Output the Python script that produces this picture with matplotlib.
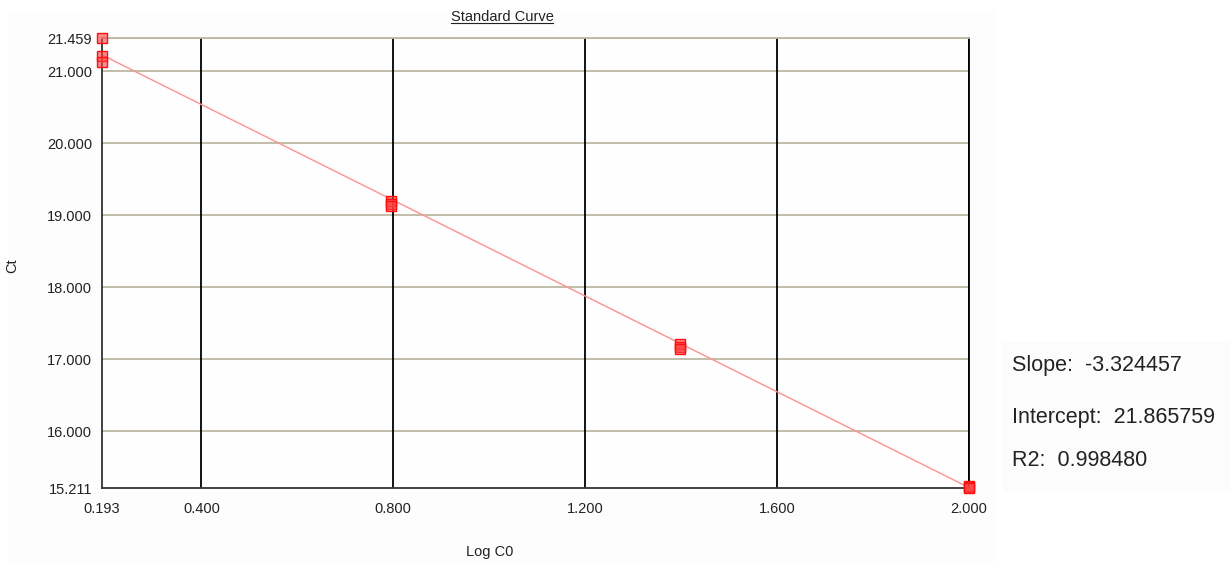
import matplotlib.pyplot as plt
from matplotlib.lines import Line2D
from matplotlib.patches import Rectangle

plt.rcParams['font.family'] = ['Liberation Sans', 'DejaVu Sans']

# standard curve replicates
log_c0 = [0.193, 0.193, 0.193,
          0.796, 0.796, 0.796,
          1.398, 1.398, 1.398,
          2.000, 2.000, 2.000]
ct = [21.459, 21.21, 21.13,
      19.19, 19.15, 19.12,
      17.21, 17.17, 17.14,
      15.245, 15.23, 15.211]

slope = -3.324457
intercept = 21.865759
r2 = 0.998480

x_ticks = [0.193, 0.4, 0.8, 1.2, 1.6, 2.0]
y_ticks = [15.211, 16.0, 17.0, 18.0, 19.0, 20.0, 21.0, 21.459]

W, H = 1231, 562
fig = plt.figure(figsize=(W / 100, H / 100), dpi=100)
fig.patch.set_facecolor('white')

# panel backgrounds
fig.add_artist(Rectangle((8 / W, 0), 987 / W, 1 - 10 / H, transform=fig.transFigure,
                         facecolor='#fdfdfd', edgecolor='none', zorder=-5))
fig.add_artist(Rectangle((1003 / W, 1 - 492 / H), 228 / W, 150 / H, transform=fig.transFigure,
                         facecolor='#fcfcfc', edgecolor='none', zorder=-5))

ax = fig.add_axes([102 / W, 1 - 488 / H, 867 / W, 450 / H])
ax.set_facecolor('#fefefe')

xmin, xmax = min(log_c0), max(log_c0)
ymin, ymax = min(ct), max(ct)
ax.set_xlim(xmin, xmax)
ax.set_ylim(ymin, ymax)

# grid: khaki horizontals, black verticals
for y in y_ticks[1:]:
    ax.axhline(y, color='#bcb8a4', lw=1.3, zorder=1)
for x in x_ticks[1:]:
    ax.axvline(x, color='black', lw=1.3, zorder=1)

# fitted line
fx = [xmin, xmax]
fy = [intercept + slope * v for v in fx]
ax.plot(fx, fy, color='#ff9090', lw=1.0, zorder=2)

ax.plot(log_c0, ct, linestyle='none', marker='s', markersize=6.6,
        markerfacecolor=(1, 0.25, 0.25, 0.6), markeredgecolor='#ff1010',
        markeredgewidth=1.0, clip_on=False, zorder=3)

ax.set_xticks(x_ticks)
ax.set_xticklabels(['%.3f' % v for v in x_ticks])
ax.set_yticks(y_ticks)
ax.set_yticklabels(['%.3f' % v for v in y_ticks])
ax.tick_params(length=0, labelsize=10.5, colors='#222222')
ax.tick_params(axis='x', pad=10)
ax.tick_params(axis='y', pad=7)

for side in ['left', 'bottom']:
    ax.spines[side].set_color('#333333')
    ax.spines[side].set_linewidth(1.3)
ax.spines['top'].set_color('#bcb8a4')
ax.spines['top'].set_linewidth(1.3)
ax.spines['right'].set_color('black')
ax.spines['right'].set_linewidth(1.3)

fig.text(12 / W, 1 - 266 / H, 'Ct', rotation=90, ha='center', va='center',
         fontsize=10.5, color='#222222')
fig.text(490 / W, 1 - 552 / H, 'Log C0', ha='center', va='center',
         fontsize=10.5, color='#222222')
title = fig.text(502 / W, 1 - 17 / H, 'Standard Curve', ha='center', va='center',
                 fontsize=10.5, color='#222222')

# underline the title
fig.canvas.draw()
bb = title.get_window_extent().transformed(fig.transFigure.inverted())
fig.add_artist(Line2D([bb.x0, bb.x1], [bb.y0 + 1 / H, bb.y0 + 1 / H],
                      transform=fig.transFigure, color='#222222', lw=0.8))

stats = [('Slope:  %.6f' % slope, 365),
         ('Intercept:  %.6f' % intercept, 417),
         ('R2:  %.6f' % r2, 460)]
for s, ypix in stats:
    fig.text(1012 / W, 1 - ypix / H, s, ha='left', va='center',
             fontsize=15.5, color='#222222')

fig.savefig('out.png', dpi=100)
